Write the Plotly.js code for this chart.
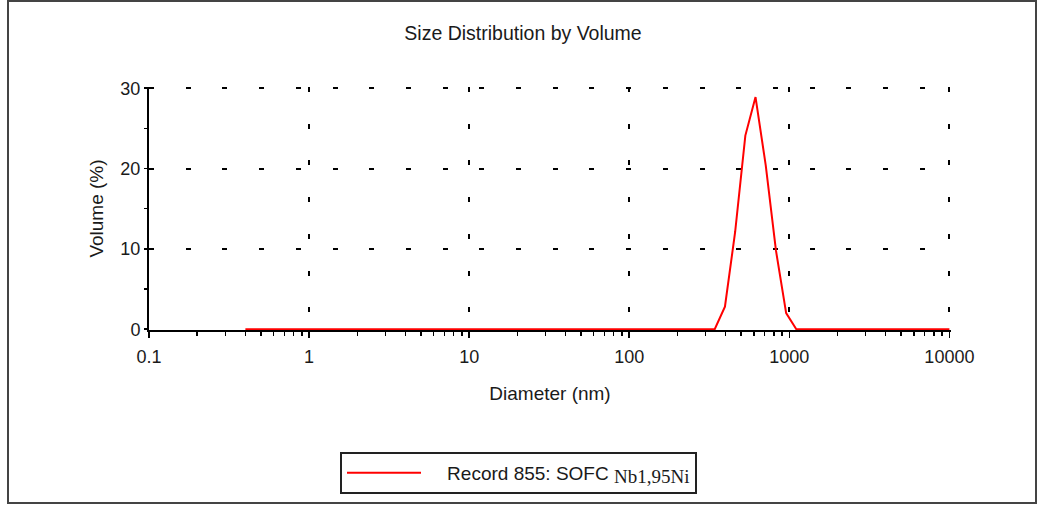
<!DOCTYPE html>
<html>
<head>
<meta charset="utf-8">
<script src="https://cdn.plot.ly/plotly-3.0.1.min.js"></script>
<style>
  html, body { margin: 0; padding: 0; background: #ffffff; }
  #chart { width: 1039px; height: 508px; }
</style>
</head>
<body>
<div id="chart"></div>
<script>
// ---- data ----
var diameterNm = [0.4, 342.0, 396.1, 458.7, 531.2, 615.1, 712.4, 825.0, 955.4, 1106, 10000];
var volumePct  = [0,   0,     2.8,   12.1,  24.1,  28.9,  20.4,  9.8,   2.0,   0,    0];

var xTickVals  = [0.1, 1, 10, 100, 1000, 10000];
var xTickText  = ['0.1', '1', '10', '100', '1000', '10000'];
var yTickVals  = [0, 10, 20, 30];
var yTickText  = ['0', '10', '20', '30'];

var seriesName = 'Record 855: SOFC ';
var seriesSub  = 'Nb1,95Ni';
var chartTitle = 'Size Distribution by Volume';
var xTitle     = 'Diameter (nm)';
var yTitle     = 'Volume (%)';

var FONT = 'Liberation Sans, Arial, sans-serif';
var TXT = '#1a1a1a';

// plot-area geometry (pixels) used only for placing paper-referenced items
var PL = 149, PR = 951, PT = 87, PB = 330;
var PW = PR - PL, PH = PB - PT;
function px(x) { return (x - PL) / PW; }
function py(y) { return (PB - y) / PH; }

var trace = {
  x: diameterNm,
  y: volumePct,
  type: 'scatter',
  mode: 'lines',
  name: '\u00a0\u00a0\u00a0\u00a0' + seriesName +
        '<span style="font-family:Liberation Serif, Times New Roman, serif;baseline-shift:-3px">' + seriesSub + '</span>',
  line: { color: '#ff0000', width: 2 },
  cliponaxis: false,
  hoverinfo: 'x+y'
};

var layout = {
  width: 1039,
  height: 508,
  margin: { l: PL, r: 1039 - PR, t: PT, b: 508 - PB, pad: 0 },
  paper_bgcolor: '#ffffff',
  plot_bgcolor: '#ffffff',
  font: { family: FONT, size: 18, color: TXT },
  showlegend: true,
  title: {
    text: chartTitle,
    font: { family: FONT, size: 19.5, color: TXT },
    xref: 'container', yref: 'container',
    x: 0.5034, xanchor: 'center',
    y: 0.935, yanchor: 'middle'
  },
  xaxis: {
    type: 'log',
    range: [-1, 4.01],
    tickmode: 'array',
    tickvals: xTickVals,
    ticktext: xTickText,
    ticks: 'outside', ticklen: 6, tickwidth: 1.5, tickcolor: '#000',
    minor: { dtick: 'D1', ticks: 'outside', ticklen: 4, tickwidth: 1.5, tickcolor: '#000', showgrid: false },
    showline: true, linecolor: '#000', linewidth: 2,
    showgrid: true, gridcolor: '#000', gridwidth: 2, griddash: '5px,31.7px',
    zeroline: false,
    ticklabelstandoff: 3,
    tickfont: { family: FONT, size: 18, color: TXT },
    title: { text: xTitle, font: { family: FONT, size: 19, color: TXT }, standoff: 21 },
    layer: 'below traces',
    fixedrange: true
  },
  yaxis: {
    range: [-0.1, 30.15],
    tickmode: 'array',
    tickvals: yTickVals,
    ticktext: yTickText,
    ticks: 'outside', ticklen: 3, tickwidth: 1.5, tickcolor: '#000',
    minor: { dtick: 5, ticks: 'outside', ticklen: 3, tickwidth: 1.5, tickcolor: '#000', showgrid: false },
    showline: true, linecolor: '#000', linewidth: 2,
    showgrid: true, gridcolor: '#000', gridwidth: 2, griddash: '5px,31.7px',
    zeroline: false,
    ticklabelstandoff: 0,
    tickfont: { family: FONT, size: 18, color: TXT },
    title: { text: yTitle, font: { family: FONT, size: 19, color: TXT }, standoff: 12 },
    layer: 'below traces',
    fixedrange: true
  },
  xaxis2: {
    type: 'log',
    overlaying: 'x', anchor: 'y',
    range: [-1, 4.01],
    tickmode: 'array', tickvals: xTickVals,
    ticks: 'inside', ticklen: 4, tickwidth: 1.5, tickcolor: '#000',
    minor: { dtick: 'D1', ticks: 'inside', ticklen: 3, tickwidth: 1.5, tickcolor: '#000', showgrid: false },
    showticklabels: false, showline: false, showgrid: false, zeroline: false,
    fixedrange: true
  },
  yaxis2: {
    overlaying: 'y', anchor: 'x', side: 'left',
    range: [-0.1, 30.15],
    tickmode: 'array', tickvals: yTickVals,
    ticks: 'inside', ticklen: 6, tickwidth: 1.5, tickcolor: '#000',
    minor: { dtick: 5, ticks: 'inside', ticklen: 4, tickwidth: 1.5, tickcolor: '#000', showgrid: false },
    showticklabels: false, showline: false, showgrid: false, zeroline: false,
    fixedrange: true
  },
  legend: {
    x: px(340), xanchor: 'left', xref: 'paper',
    y: py(452), yanchor: 'top', yref: 'paper',
    bgcolor: '#ffffff',
    bordercolor: '#222',
    borderwidth: 2,
    itemwidth: 74,
    font: { family: FONT, size: 19, color: TXT }
  },
  shapes: [
    {
      type: 'rect', xref: 'paper', yref: 'paper',
      x0: px(8), x1: px(1036),
      y0: py(503), y1: py(1),
      line: { color: '#444', width: 2 },
      fillcolor: 'rgba(0,0,0,0)',
      layer: 'below'
    }
  ]
};

Plotly.newPlot('chart', [trace], layout, { displayModeBar: false, staticPlot: true });
</script>
</body>
</html>
